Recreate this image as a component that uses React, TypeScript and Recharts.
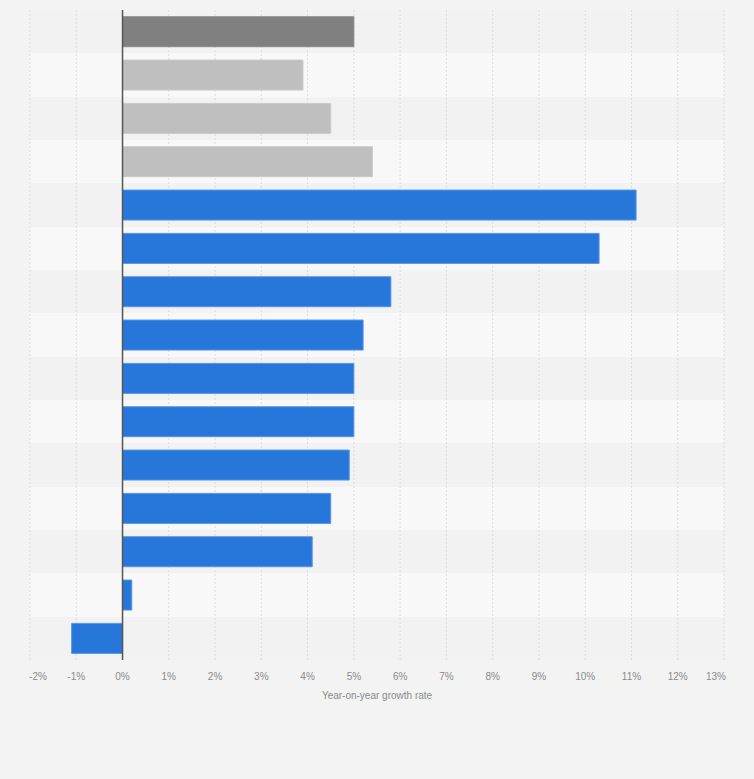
import React from 'react';
import {
  BarChart,
  Bar,
  XAxis,
  YAxis,
  CartesianGrid,
  ReferenceLine,
  Cell,
} from 'recharts';

// rows, top to bottom (the reference shows no category labels)
const rows = ['r1', 'r2', 'r3', 'r4', 'r5', 'r6', 'r7', 'r8', 'r9', 'r10', 'r11', 'r12', 'r13', 'r14', 'r15'];
const growth = [5.0, 3.9, 4.5, 5.4, 11.1, 10.3, 5.8, 5.2, 5.0, 5.0, 4.9, 4.5, 4.1, 0.2, -1.1];
const groups = ['total', 'forecast', 'forecast', 'forecast', 'actual', 'actual', 'actual', 'actual', 'actual', 'actual', 'actual', 'actual', 'actual', 'actual', 'actual'];
const xTicks = [-2, -1, 0, 1, 2, 3, 4, 5, 6, 7, 8, 9, 10, 11, 12, 13];

const groupFill: Record<string, string> = {
  total: '#808080',
  forecast: '#bfbfbf',
  actual: '#2776da',
};
const groupStroke: Record<string, string> = {
  total: '#8c8c8c',
  forecast: '#cacaca',
  actual: '#5b95e4',
};

const data = rows.map((row, i) => ({ row, value: growth[i], group: groups[i] }));

function EdgeTick(props: any): React.ReactElement {
  const { x, y, payload, index } = props;
  let dx = 0;
  if (index === 0) dx = 8;
  if (index === xTicks.length - 1) dx = -8;
  return (
    <text
      x={x + dx}
      y={y}
      dy="0.71em"
      textAnchor="middle"
      fill="#8a8a8a"
      fontSize={10}
      fontFamily="'Liberation Sans', Arial, sans-serif"
    >
      {`${payload.value}%`}
    </text>
  );
}

export default function App(): React.ReactElement {
  return (
    <div style={{ width: 754, height: 779, background: '#f3f3f3' }}>
      <style>{'body { margin: 0; background: #f3f3f3; }'}</style>
      <BarChart
        width={754}
        height={779}
        data={data}
        layout="vertical"
        margin={{ top: 10, right: 30, left: 30, bottom: 79 }}
        barCategoryGap="15.5%"
      >
        <CartesianGrid
          vertical={false}
          stroke="none"
          horizontalFill={['#f2f2f2', '#f8f8f8']}
          fillOpacity={1}
          horizontalCoordinatesGenerator={({ offset }: any) =>
            rows.map((_, i) => offset.top + (i * offset.height) / rows.length).concat(offset.top + offset.height)
          }
        />
        <CartesianGrid horizontal={false} stroke="#dcdcdc" strokeDasharray="2 2" />
        <XAxis
          type="number"
          domain={[-2, 13]}
          ticks={xTicks}
          interval={0}
          axisLine={false}
          tickLine={false}
          tickSize={6}
          tickMargin={7}
          height={40}
          tick={<EdgeTick />}
          label={{
            value: 'Year-on-year growth rate',
            position: 'insideBottom',
            offset: 1,
            fill: '#8a8a8a',
            fontSize: 10,
            fontFamily: "'Liberation Sans', Arial, sans-serif",
          }}
        />
        <YAxis type="category" dataKey="row" hide />
        <Bar dataKey="value" isAnimationActive={false} strokeWidth={1}>
          {data.map((d) => (
            <Cell key={d.row} fill={groupFill[d.group]} stroke={groupStroke[d.group]} />
          ))}
        </Bar>
        <ReferenceLine x={0} stroke="#555" strokeWidth={1.5} />
      </BarChart>
    </div>
  );
}
